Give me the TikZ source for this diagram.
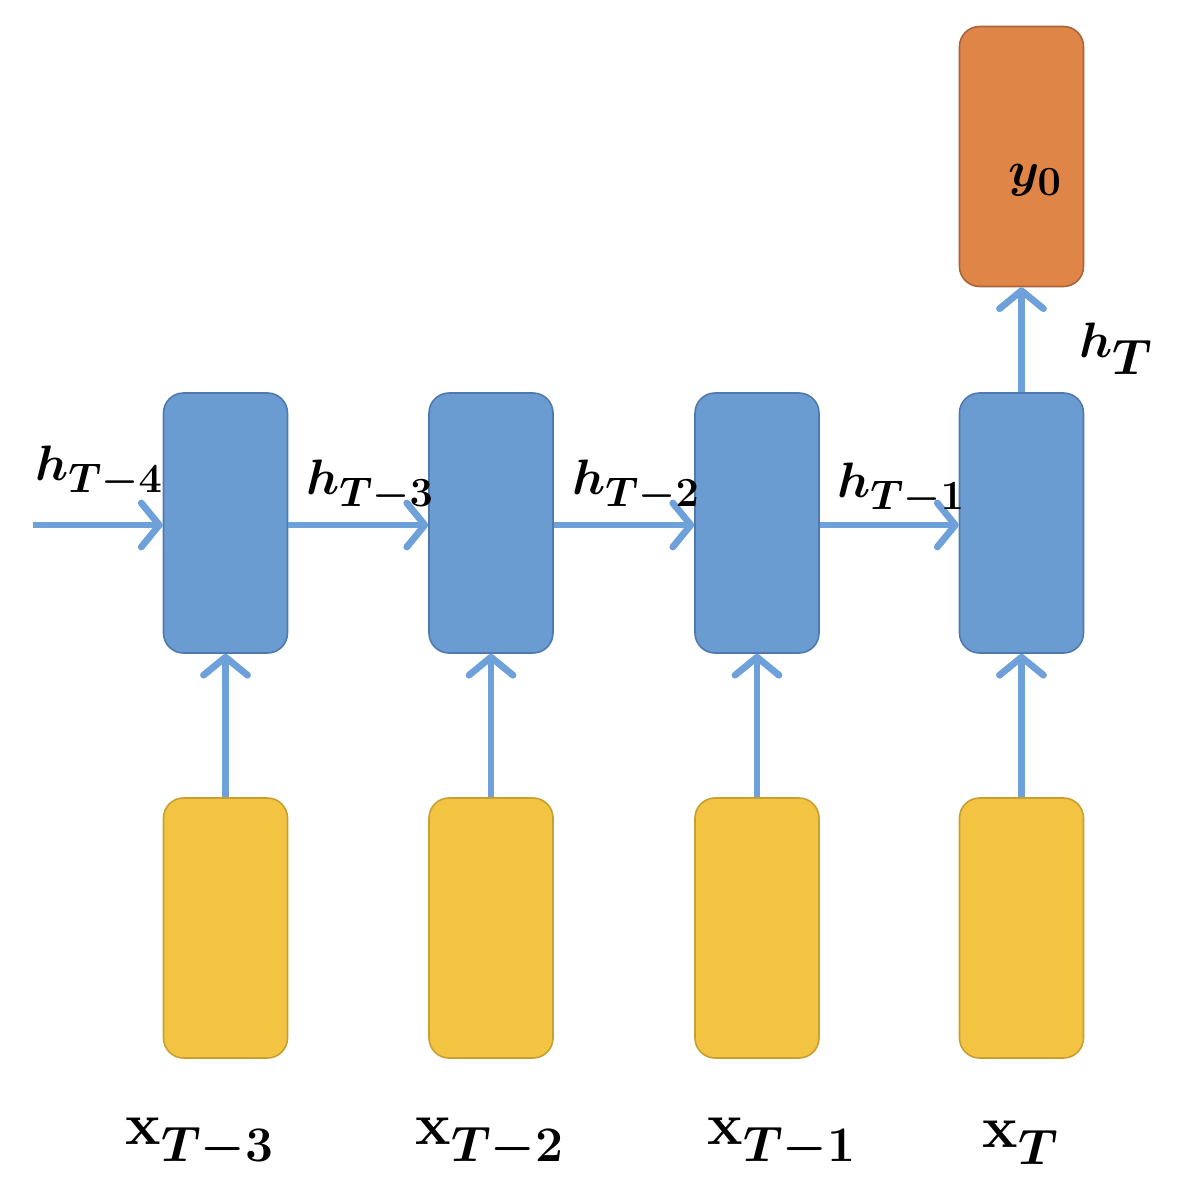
\documentclass[tikz,border=0pt]{standalone}
\usepackage{amsmath,bm,graphicx}
\usetikzlibrary{arrows.meta}
\definecolor{cellblue}{RGB}{106,155,209}
\definecolor{cellblueb}{RGB}{80,122,173}
\definecolor{inyellow}{RGB}{243,195,66}
\definecolor{inyellowb}{RGB}{200,160,50}
\definecolor{outorange}{RGB}{224,133,72}
\definecolor{outorangeb}{RGB}{170,100,60}
\definecolor{arrowblue}{RGB}{110,160,218}
\newcommand{\bigx}{\scalebox{1.2}{$\mathbf{x}$}}
\tikzset{
  box/.style={rounded corners=10pt, minimum width=62pt, minimum height=130pt, inner sep=0pt, line width=0.8pt},
  cell/.style={box, fill=cellblue, draw=cellblueb},
  inp/.style={box, fill=inyellow, draw=inyellowb},
  outp/.style={box, fill=outorange, draw=outorangeb},
  conn/.style={draw=arrowblue, line width=3.4pt, -{Straight Barb[length=9pt,width=22pt,round]}},
  hlab/.style={font=\fontsize{28}{32}\selectfont, inner sep=0pt},
  xlab/.style={font=\fontsize{34}{38}\selectfont, inner sep=0pt}
}
\begin{document}
\begin{tikzpicture}[x=0.5pt,y=-0.5pt]
\useasboundingbox (0,0) rectangle (1194,1204);
\node[cell] (c1) at (225.5,523) {};
\node[cell] (c2) at (491,523) {};
\node[cell] (c3) at (757,523) {};
\node[cell] (c4) at (1021.5,523) {};
\node[inp] (i1) at (225.5,928) {};
\node[inp] (i2) at (491,928) {};
\node[inp] (i3) at (757,928) {};
\node[inp] (i4) at (1021.5,928) {};
\node[outp] (o) at (1021.5,156.5) {};
\node[inner sep=0pt, font=\fontsize{31}{36}\selectfont] (ylab) at (1035,180) {$\bm{y}_{\mathbf{0}}$};
\coordinate (start) at (33,525);
\draw[conn] (start) -- (c1.west |- start);
\draw[conn] (c1.east |- start) -- (c2.west |- start);
\draw[conn] (c2.east |- start) -- (c3.west |- start);
\draw[conn] (c3.east |- start) -- (c4.west |- start);
\foreach \k in {1,2,3,4} {
  \draw[conn] (i\k.north) -- (c\k.south);
}
\draw[conn] (c4.north) -- (o.south);
\node[hlab] (h4) at (99,472) {$\bm{h}_{\bm{T-4}}$};
\node[hlab] (h3) at (370,486) {$\bm{h}_{\bm{T-3}}$};
\node[hlab] (h2) at (636,486) {$\bm{h}_{\bm{T-2}}$};
\node[hlab] (h1) at (901,489) {$\bm{h}_{\bm{T-1}}$};
\node[font=\fontsize{36}{40}\selectfont, inner sep=0pt] (hT) at (1116,349) {$\bm{h}_{\bm{T}}$};
\node[xlab] (x1) at (200,1143) {$\bigx_{\bm{T-3}}$};
\node[xlab] (x2) at (490,1143) {$\bigx_{\bm{T-2}}$};
\node[xlab] (x3) at (782,1143) {$\bigx_{\bm{T-1}}$};
\node[xlab] (x4) at (1021,1143) {$\bigx_{\bm{T}}$};
\end{tikzpicture}
\end{document}
